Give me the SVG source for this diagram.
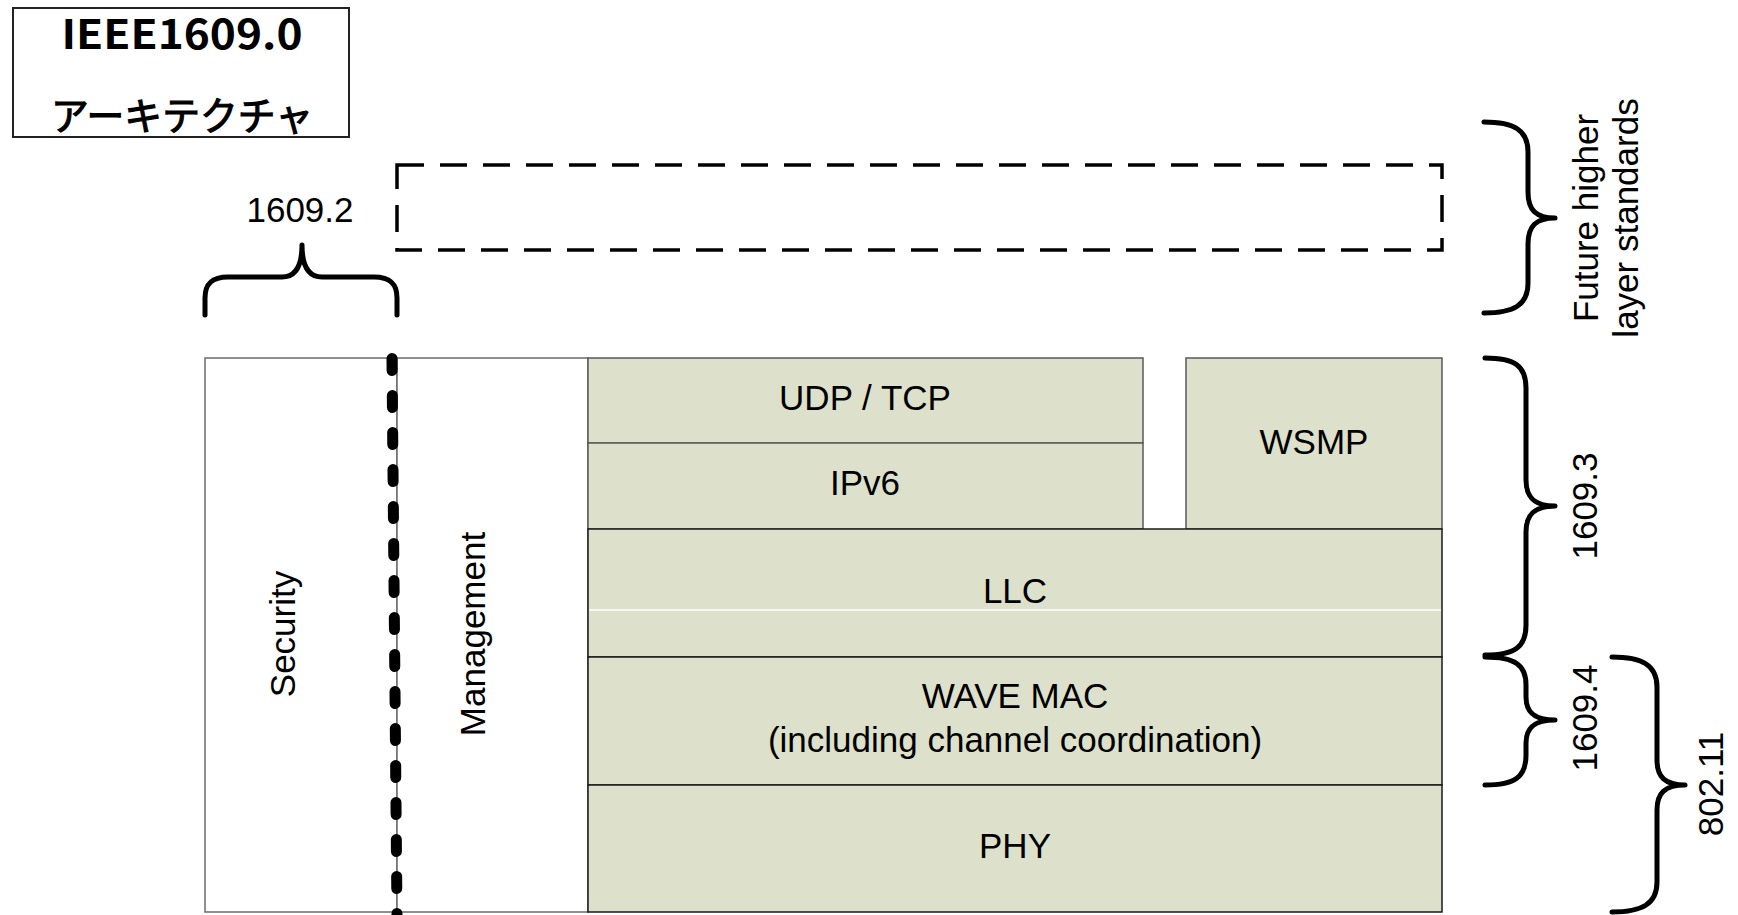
<svg xmlns="http://www.w3.org/2000/svg" width="1738" height="915" viewBox="0 0 1738 915">
<style>
  .lbl { font-family: "Liberation Sans", Arial, sans-serif; font-size: 35px; fill: #000; text-anchor: middle; }
  .brace { fill: none; stroke: #000; stroke-width: 5; stroke-linecap: round; stroke-linejoin: round; }
  .white { fill: #fff; stroke: #6b6b6b; stroke-width: 1.5; }
  .green { fill: #dde0cb; stroke: #5a5a5a; stroke-width: 1.5; }
  .greenk { fill: #dde0cb; stroke: #1a1a1a; stroke-width: 1.5; }
</style>
<rect width="1738" height="915" fill="#fff"/>

<g id="title">
  <rect x="13" y="8" width="336" height="129" fill="#fff" stroke="#222" stroke-width="2"/>
  <text x="182" y="49" font-family="'Noto Sans CJK JP', 'Noto Sans', sans-serif" font-weight="bold" font-size="41" text-anchor="middle" textLength="241" lengthAdjust="spacingAndGlyphs">IEEE1609.0</text>
  <text x="182" y="130" font-family="'Noto Sans CJK JP', sans-serif" font-size="38.5" text-anchor="middle" stroke="#000" stroke-width="1.1" textLength="262" lengthAdjust="spacingAndGlyphs">アーキテクチャ</text>
</g>

<g id="future">
  <rect x="397" y="165" width="1045" height="85" fill="none" stroke="#000" stroke-width="3.5" stroke-dasharray="27 16"/>
</g>

<g id="security">
  <rect class="white" x="205" y="358" width="192" height="554"/>
  <text class="lbl" transform="translate(295,634) rotate(-90)">Security</text>
</g>
<g id="management">
  <rect class="white" x="397" y="358" width="191" height="554"/>
  <text class="lbl" transform="translate(485,634) rotate(-90)">Management</text>
</g>

<g id="udptcp">
  <rect class="green" x="588" y="358" width="555" height="85"/>
  <text class="lbl" x="865" y="410">UDP / TCP</text>
</g>
<g id="ipv6">
  <rect class="green" x="588" y="443" width="555" height="86"/>
  <text class="lbl" x="865" y="495">IPv6</text>
</g>
<g id="wsmp">
  <rect class="green" x="1186" y="358" width="256" height="171"/>
  <text class="lbl" x="1314" y="454">WSMP</text>
</g>
<g id="llc">
  <rect class="greenk" x="588" y="529" width="854" height="128"/>
  <line x1="589" y1="610" x2="1441" y2="610" stroke="#fff" stroke-width="1.5"/>
  <text class="lbl" x="1015" y="603">LLC</text>
</g>
<g id="wavemac">
  <rect class="greenk" x="588" y="657" width="854" height="128"/>
  <text class="lbl" x="1015" y="708">WAVE MAC</text>
  <text class="lbl" x="1015" y="752">(including channel coordination)</text>
</g>
<g id="phy">
  <rect class="greenk" x="588" y="785" width="854" height="127"/>
  <text class="lbl" x="1015" y="858">PHY</text>
</g>

<g id="connectors">
  <path d="M392,358.5 L397,915" fill="none" stroke="#000" stroke-width="11" stroke-linecap="round" stroke-dasharray="12 25"/>
  <path class="brace" d="M205,315 V298 C205,284 212,277 228,277 H282 C296,277 302,266 302,245 C302,266 308,277 322,277 H374 C390,277 397,284 397,298 V315"/>
  <path class="brace" d="M1484,122 C1514,122 1528,130 1528,152 V192 C1528,210 1536,218 1555,218 C1536,218 1528,226 1528,244 V283 C1528,305 1514,313 1484,313"/>
  <path class="brace" d="M1485,358 C1515,358 1526,366 1526,388 V480 C1526,498 1535,506 1555,506 C1535,506 1526,514 1526,532 V625 C1526,647 1515,655 1485,655"/>
  <path class="brace" d="M1485,657 C1515,657 1526,665 1526,685 V697 C1526,713 1535,720 1555,720 C1535,720 1526,727 1526,743 V755 C1526,777 1515,785 1485,785"/>
  <path class="brace" d="M1612,657 C1642,657 1657,665 1657,687 V760 C1657,777 1665,785 1685,785 C1665,785 1657,793 1657,810 V882 C1657,904 1642,912 1612,912"/>
</g>

<g id="labels">
  <text class="lbl" x="300" y="222">1609.2</text>
  <text class="lbl" transform="translate(1598,218) rotate(-90)">Future higher<tspan x="0" dy="40">layer standards</tspan></text>
  <text class="lbl" transform="translate(1597,506) rotate(-90)">1609.3</text>
  <text class="lbl" transform="translate(1597,718) rotate(-90)">1609.4</text>
  <text class="lbl" transform="translate(1723,784) rotate(-90)">802.11</text>
</g>
</svg>
